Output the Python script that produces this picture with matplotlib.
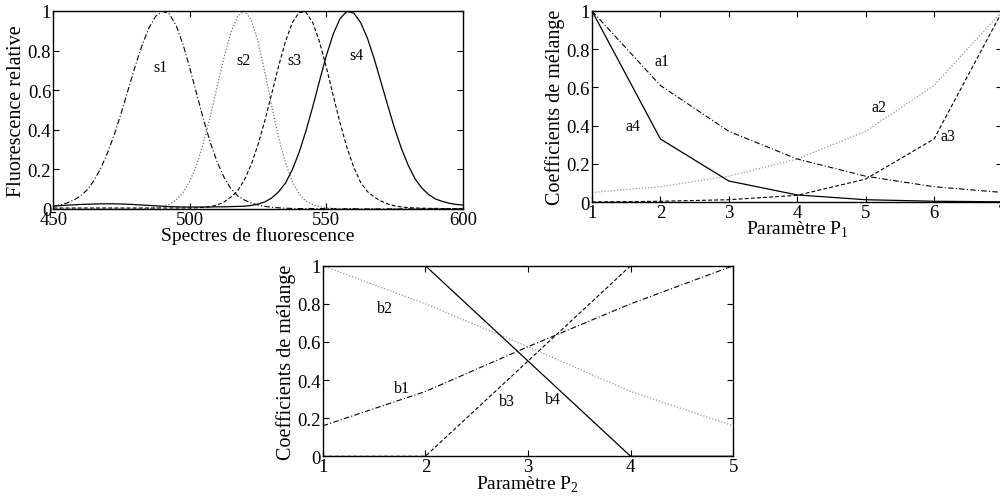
import numpy as np
import matplotlib.pyplot as plt

plt.rcParams['font.family'] = ['Liberation Serif', 'DejaVu Serif']
plt.rcParams['mathtext.fontset'] = 'custom'
plt.rcParams['mathtext.rm'] = 'Liberation Serif'

# wavelengths (nm), every 2.5 nm
wl = np.arange(450, 600.1, 2.5)

s1 = [0.015, 0.020, 0.030, 0.045, 0.066, 0.098, 0.146, 0.209, 0.288, 0.383,
      0.491, 0.607, 0.722, 0.827, 0.914, 0.974, 0.999, 0.985, 0.926, 0.831,
      0.711, 0.580, 0.452, 0.335, 0.237, 0.160, 0.103, 0.066, 0.045, 0.030,
      0.020, 0.013, 0.009, 0.006, 0.004, 0.003, 0.002,
      0.002, 0.002, 0.002, 0.002, 0.002, 0.002, 0.002, 0.002,
      0.001, 0.001, 0.001, 0.001, 0.001, 0.001, 0.001, 0.001,
      0.001, 0.001, 0.001, 0.001, 0.001, 0.001, 0.001, 0.001]
s2 = [0.0] * 14 + [
      0.002, 0.005, 0.012, 0.024, 0.046, 0.083, 0.141, 0.224, 0.335, 0.469,
      0.619, 0.766, 0.891, 0.974, 1.0, 0.955, 0.843, 0.688, 0.518, 0.361,
      0.233, 0.138, 0.076, 0.040, 0.022, 0.012, 0.006, 0.003, 0.002] + [0.001] * 18
s3 = [0.005] * 20 + [
      0.005, 0.006, 0.008, 0.012, 0.020, 0.035, 0.060, 0.092, 0.148, 0.226,
      0.327, 0.449, 0.584, 0.722, 0.846, 0.941, 0.993, 0.994, 0.941, 0.843,
      0.714, 0.572, 0.434, 0.311, 0.211, 0.135, 0.088, 0.060, 0.040, 0.025,
      0.016, 0.010, 0.007, 0.005, 0.004, 0.003, 0.003, 0.002, 0.002, 0.002,
      0.002]
s4 = [0.015, 0.017, 0.019, 0.021, 0.023, 0.024, 0.025, 0.026, 0.026, 0.026,
      0.025, 0.024, 0.022, 0.020, 0.018, 0.016, 0.014, 0.012, 0.011, 0.010,
      0.010,
      0.010, 0.010, 0.010, 0.011, 0.011, 0.012, 0.013, 0.014, 0.018, 0.025,
      0.036, 0.056, 0.087, 0.131, 0.198, 0.286, 0.394, 0.517, 0.649, 0.776,
      0.884, 0.962, 0.998, 0.990, 0.942, 0.863, 0.758, 0.640, 0.520, 0.405,
      0.304, 0.219, 0.151, 0.105, 0.072, 0.050, 0.038, 0.029, 0.023, 0.020]

# mixing coefficients vs parameter P1
p1 = [1, 2, 3, 4, 5, 6, 7]
a1 = [1.0, 0.61, 0.37, 0.225, 0.135, 0.08, 0.05]
a2 = [0.05, 0.08, 0.135, 0.225, 0.37, 0.61, 1.0]
a3 = [0.0, 0.004, 0.012, 0.035, 0.12, 0.33, 1.0]
a4 = [1.0, 0.33, 0.11, 0.037, 0.012, 0.004, 0.001]

# mixing coefficients vs parameter P2
p2 = [1, 2, 3, 4, 5]
b1 = [0.16, 0.34, 0.575, 0.80, 1.0]
b2 = [1.0, 0.80, 0.575, 0.34, 0.16]
b3 = [0.0, 0.0, 0.5, 1.0, 1.0]
b4 = [1.0, 1.0, 0.5, 0.0, 0.0]

DASHDOT = (0, (5, 2, 1, 2))
DASHED = (0, (3.5, 2))
DOTTED = (0, (1, 1.5))
yt = [0, 0.2, 0.4, 0.6, 0.8, 1]
ytl = ['0', '0.2', '0.4', '0.6', '0.8', '1']


def style(ax):
    ax.tick_params(direction='in', top=True, right=True, length=4, width=0.8,
                   labelsize=13.5, pad=1.5)
    for sp in ax.spines.values():
        sp.set_linewidth(1.0)
    ax.set_yticks(yt)
    ax.set_yticklabels(ytl)
    ax.set_ylim(0, 1)


fig = plt.figure(figsize=(10, 5.02), dpi=100)

ax1 = fig.add_axes([0.0533, 0.5817, 0.4097, 0.3944])
ax1.plot(wl, s1, color='k', lw=0.8, ls=DASHDOT)
ax1.plot(wl, s2, color='0.45', lw=0.9, ls=DOTTED)
ax1.plot(wl, s3, color='k', lw=0.8, ls=DASHED)
ax1.plot(wl, s4, color='k', lw=0.9)
ax1.set_xlim(450, 600)
ax1.set_xticks([450, 500, 550, 600])
style(ax1)
ax1.set_xlabel('Spectres de fluorescence', fontsize=14, labelpad=-1.5)
ax1.set_ylabel('Fluorescence relative', fontsize=14.5, labelpad=1)
for t, x, y in [('s1', 489.3, 0.717), ('s2', 519.7, 0.75), ('s3', 538.3, 0.75), ('s4', 561, 0.78)]:
    ax1.text(x, y, t, fontsize=11.5, ha='center', va='center')

ax2 = fig.add_axes([0.592, 0.5956, 0.4104, 0.3805])
ax2.plot(p1, a1, color='k', lw=0.8, ls=DASHDOT)
ax2.plot(p1, a2, color='0.6', lw=0.9, ls=DOTTED)
ax2.plot(p1, a3, color='k', lw=0.8, ls=DASHED)
ax2.plot(p1, a4, color='k', lw=0.9)
ax2.set_xlim(1, 7)
ax2.set_xticks(p1)
style(ax2)
ax2.set_xlabel(r'Paramètre $\mathrm{P}_1$', fontsize=14, labelpad=-1.5)
ax2.set_ylabel('Coefficients de mélange', fontsize=14.5, labelpad=1)
for t, x, y in [('a1', 2.02, 0.74), ('a4', 1.6, 0.40), ('a2', 5.2, 0.50), ('a3', 6.2, 0.345)]:
    ax2.text(x, y, t, fontsize=11.5, ha='center', va='center')

ax3 = fig.add_axes([0.3227, 0.0890, 0.4106, 0.3797])
ax3.plot(p2, b1, color='k', lw=0.8, ls=DASHDOT)
ax3.plot(p2, b2, color='0.6', lw=0.9, ls=DOTTED)
ax3.plot(p2, b3, color='k', lw=0.8, ls=DASHED)
ax3.plot(p2, b4, color='k', lw=0.9)
ax3.set_xlim(1, 5)
ax3.set_xticks(p2)
style(ax3)
ax3.set_xlabel(r'Paramètre $\mathrm{P}_2$', fontsize=14, labelpad=-1.5)
ax3.set_ylabel('Coefficients de mélange', fontsize=14.5, labelpad=1)
for t, x, y in [('b2', 1.61, 0.78), ('b1', 1.77, 0.36), ('b3', 2.79, 0.29), ('b4', 3.24, 0.30)]:
    ax3.text(x, y, t, fontsize=11.5, ha='center', va='center')

plt.savefig('out.png', dpi=100)
